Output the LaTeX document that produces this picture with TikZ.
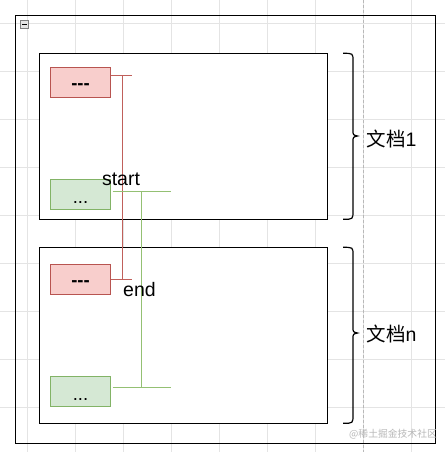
\documentclass[tikz,border=0pt]{standalone}
\usepackage{fontspec}
\setmainfont{Liberation Sans}
\newfontfamily\cjk{Noto Sans CJK SC}
\definecolor{redfill}{HTML}{F8CECC}
\definecolor{redstroke}{HTML}{B85450}
\definecolor{greenfill}{HTML}{D5E8D4}
\definecolor{greenstroke}{HTML}{82B366}
\definecolor{redconn}{HTML}{C0605B}
\definecolor{greenconn}{HTML}{94C073}
\definecolor{gridc}{HTML}{E4E4E4}
\definecolor{markc}{HTML}{B8B8B8}
\tikzset{
  docbox/.style={draw=black, fill=white, line width=1.2pt, rectangle, inner sep=0pt},
  redbox/.style={draw=redstroke, fill=redfill, line width=1pt, rectangle, inner sep=0pt,
    minimum width=60pt, minimum height=30pt, font=\fontsize{18.5}{20}\selectfont\bfseries},
  greenbox/.style={draw=greenstroke, fill=greenfill, line width=1pt, rectangle, inner sep=0pt,
    minimum width=60pt, minimum height=30pt, font=\fontsize{18.5}{20}\selectfont},
  redline/.style={draw=redconn, line width=1pt},
  greenline/.style={draw=greenconn, line width=1pt},
  lbl/.style={inner sep=0pt, font=\fontsize{19.5}{21}\selectfont},
  bracestyle/.style={draw=black, line width=1.2pt},
}
\begin{document}
\begin{tikzpicture}[x=1pt, y=-1pt]
\useasboundingbox (0,0) rectangle (445,452);
\fill[white] (0,0) rectangle (445,452);
% grid
\foreach \k in {0,...,8} {
  \draw[gridc, line width=0.8pt] ({27+48*\k},0) -- ({27+48*\k},452);
  \draw[gridc, line width=0.8pt] (0,{23+48*\k}) -- (445,{23+48*\k});
}
\draw[markc, line width=0.7pt, dash pattern=on 3pt off 2pt] (363,0) -- (363,452);
% outer container
\node[draw=black, line width=1.2pt, rectangle, inner sep=0pt, minimum width=420.4pt, minimum height=428pt] (outer) at (225.5,229.3) {};
% collapse icon
\node[draw=gray, fill=black!10, line width=0.7pt, rectangle, inner sep=0pt, minimum width=8pt, minimum height=8pt] (icon) at (24.7,24.7) {};
\draw[black, line width=0.9pt] ([xshift=-2.3pt]icon.center) -- ([xshift=2.3pt]icon.center);
% documents
\node[docbox, minimum width=288.4pt, minimum height=166pt] (docA) at (183.5,136.3) {};
\node[docbox, minimum width=288.4pt, minimum height=176pt] (docB) at (183.5,335.3) {};
% boxes
\node[redbox] (r1) at (80.5,82.5) {\raisebox{-7.3pt}[0pt][0pt]{-{}-{}-}};
\node[greenbox] (g1) at (80.5,194.5) {\raisebox{-9pt}[0pt][0pt]{...}};
\node[redbox] (r2) at (80.5,279.5) {\raisebox{-7.3pt}[0pt][0pt]{-{}-{}-}};
\node[greenbox] (g2) at (80.5,391.5) {\raisebox{-9pt}[0pt][0pt]{...}};
% red connector
\draw[redline] ([yshift=-8pt]r1.north east) -- ++(21.2,0);
\draw[redline] ([yshift=-8pt,xshift=11pt]r1.north east) -- ([xshift=11pt]r2.east);
\draw[redline] (r2.east) -- ++(21.2,0);
% green connector
\draw[greenline] ([yshift=-12pt,xshift=1.6pt]g1.north east) -- ++(58,0);
\draw[greenline] ([yshift=-12pt,xshift=30pt]g1.north east) -- ([yshift=-11pt,xshift=30pt]g2.north east);
\draw[greenline] ([yshift=-11pt,xshift=1.6pt]g2.north east) -- ++(58,0);
% labels
\node[lbl, anchor=base] (start) at (121,185) {start};
\node[lbl, anchor=base] (end) at (139.5,296) {end};
% braces
\draw[bracestyle] (343,53.3) .. controls (353,53.3) .. (353,61) -- (353,130)
  .. controls (353,135) .. (357.5,136) .. controls (353,137) .. (353,142)
  -- (353,211) .. controls (353,219.3) .. (343,219.3);
\draw[bracestyle] (343,247.3) .. controls (353,247.3) .. (353,255) -- (353,327)
  .. controls (353,332) .. (357.5,333) .. controls (353,334) .. (353,339)
  -- (353,415) .. controls (353,423.3) .. (343,423.3);
\node[lbl, anchor=base west] (doc1) at (366.5,146) {{\cjk 文档}1};
\node[lbl, anchor=base west] (docn) at (366.5,341) {{\cjk 文档}n};
% watermark
\node[inner sep=0pt, anchor=base west, text=markc, font=\cjk\fontsize{9.8}{11}\selectfont] (wm) at (349,437.5) {@稀土掘金技术社区};
\end{tikzpicture}
\end{document}
